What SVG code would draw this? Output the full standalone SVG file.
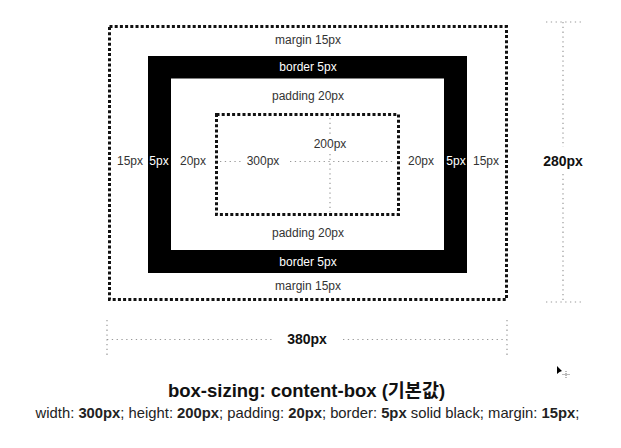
<svg xmlns="http://www.w3.org/2000/svg" width="621" height="448" viewBox="0 0 621 448">
<style>
text{font-family:"Liberation Sans",Arial,"Noto Sans CJK KR",sans-serif;}
.lbl{font-size:12px;fill:#333;text-anchor:middle;}
.wlbl{font-size:12px;fill:#fff;text-anchor:middle;}
.dim{font-size:14px;font-weight:bold;fill:#111;text-anchor:middle;}
.dot{fill:none;stroke:#111;stroke-width:3;stroke-dasharray:3 2.2;}
.gl{fill:none;stroke:#999;stroke-width:1.2;stroke-dasharray:1.3 3.5;}
</style>
<rect width="621" height="448" fill="#fff"/>
<g id="margin-box">
<rect class="dot" x="109.5" y="26.5" width="397" height="273"/>
<text class="lbl" x="308" y="44">margin 15px</text>
<text class="lbl" x="308" y="290">margin 15px</text>
<text class="lbl" x="130" y="165">15px</text>
<text class="lbl" x="486" y="165">15px</text>
</g>
<g id="border-box">
<rect x="148" y="56" width="319" height="217" fill="#000"/>
<rect x="171" y="78.5" width="273" height="171.5" fill="#fff"/>
<text class="wlbl" x="308" y="71">border 5px</text>
<text class="wlbl" x="308" y="266">border 5px</text>
<text class="wlbl" x="159" y="165">5px</text>
<text class="wlbl" x="456" y="165">5px</text>
</g>
<g id="padding-box">
<text class="lbl" x="308" y="100">padding 20px</text>
<text class="lbl" x="308" y="237">padding 20px</text>
<text class="lbl" x="193" y="165">20px</text>
<text class="lbl" x="421" y="165">20px</text>
</g>
<g id="content-box">
<rect class="dot" x="216.5" y="114.5" width="182" height="100"/>
<text class="lbl" x="263" y="165">300px</text>
<text class="lbl" x="330" y="148">200px</text>
</g>
<g id="connectors">
<path class="gl" d="M220 161.5H243M290 161.5H394"/>
<path class="gl" d="M330 118V136M330 154V212"/>
<path class="gl" d="M563 22V147M563 174V302M546 22H582M546 302H582"/>
<path class="gl" d="M107 339.5H273M343 339.5H507M107 320V356M507 320V356"/>
</g>
<g id="dims">
<text class="dim" x="563" y="166">280px</text>
<text class="dim" x="307" y="344">380px</text>
</g>
<g id="caption">
<text x="306.5" y="397" style="font-size:18.5px;font-weight:bold;fill:#111;text-anchor:middle">box-sizing: content-box (기본값)</text>
<text x="307.5" y="418" style="font-size:14.8px;fill:#222;text-anchor:middle">width: <tspan font-weight="bold">300px</tspan>; height: <tspan font-weight="bold">200px</tspan>; padding: <tspan font-weight="bold">20px</tspan>; border: <tspan font-weight="bold">5px</tspan> solid black; margin: <tspan font-weight="bold">15px</tspan>;</text>
</g>
<g id="cursor">
<polygon points="557,366 557,374 559.5,372 562,371" fill="#000"/>
<path d="M566 371V378M562.5 374.5H569.5" stroke="#555" stroke-width="0.8" stroke-dasharray="1 1"/>
</g>
</svg>
